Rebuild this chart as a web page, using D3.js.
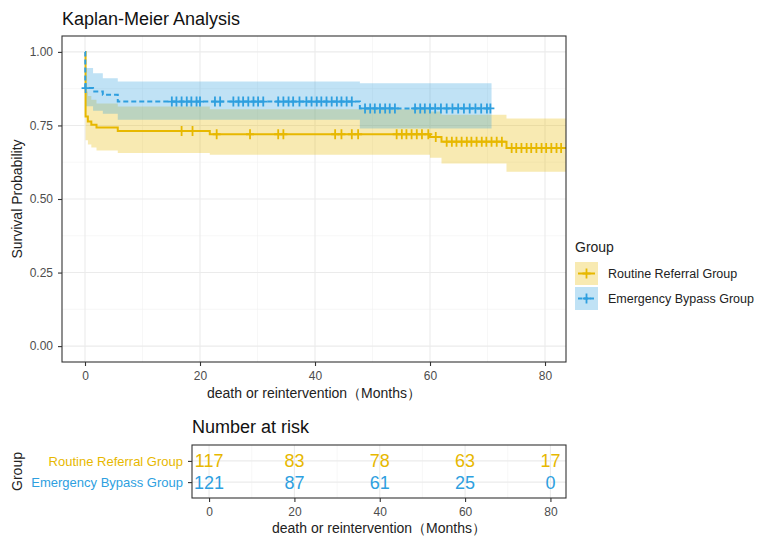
<!DOCTYPE html>
<html>
<head>
<meta charset="utf-8">
<script src="https://cdn.jsdelivr.net/npm/d3@7"></script>
<style>
  body { margin: 0; background: #fff; }
  svg { display: block; }
</style>
</head>
<body>
<div id="chart"></div>
<script>
// Kaplan-Meier curve with number-at-risk table

// Data
// Routine Referral Group (step times, survival and 95% band)
const routineTimes = [0, 0.1, 0.5, 1.1, 2.0, 5.7, 21.7, 60.0, 62.0, 73.3];
const routineSurv  = [1.0, 0.78, 0.763, 0.752, 0.743, 0.731, 0.72, 0.711, 0.695, 0.673];
const routineUpper = [1.0, 0.865, 0.85, 0.837, 0.825, 0.814, 0.805, 0.797, 0.786, 0.774];
const routineLower = [1.0, 0.70, 0.685, 0.675, 0.665, 0.656, 0.65, 0.64, 0.621, 0.593];
const routineEnd = 83.65;
const routineCensor = [16.8, 18.7, 22.9, 28.7, 33.6, 34.5, 43.5, 44.6, 46.4, 47.5,
    54.2, 55.1, 55.9, 56.8, 57.7, 58.6, 59.7, 61.0,
    62.9, 63.8, 64.6, 65.5, 66.4, 67.2, 68.1, 69.0, 69.8, 70.7, 71.6, 72.5,
    74.2, 75.0, 75.9, 76.8, 77.6, 78.5, 79.4, 80.2, 81.1, 82.0, 82.8];

// Emergency Bypass Group
const emergencyTimes = [0, 0.05, 1.4, 3.1, 5.7, 47.8];
const emergencySurv  = [1.0, 0.877, 0.865, 0.854, 0.831, 0.808];
const emergencyUpper = [1.0, 0.945, 0.927, 0.91, 0.899, 0.893];
const emergencyLower = [1.0, 0.815, 0.80, 0.79, 0.769, 0.74];
const emergencyEnd = 70.7;
const emergencyCensor = [0.1, 15.1, 15.9, 16.8, 17.7, 18.5, 19.4, 20.0, 22.6, 23.5,
    25.8, 26.7, 27.5, 28.4, 29.3, 30.1, 31.0, 33.6, 34.5, 35.4, 36.2, 37.3,
    38.5, 39.4, 40.3, 41.1, 42.0, 42.9, 43.8, 44.6, 45.5, 46.4,
    48.7, 49.6, 50.4, 51.3, 52.2, 53.0, 53.9,
    57.4, 58.3, 59.1, 60.0, 60.9, 61.9, 62.9, 63.9, 64.9, 65.9, 66.9, 67.9, 68.9, 69.9, 70.5];

// Number at risk
const groups = ["Routine Referral Group", "Emergency Bypass Group"];
const riskTimes = [0, 20, 40, 60, 80];
const riskRoutine = [117, 83, 78, 63, 17];
const riskEmergency = [121, 87, 61, 25, 0];

// Ticks
const xTicks = [0, 20, 40, 60, 80];
const xMinor = [10, 30, 50, 70];
const yTicks = [0, 0.25, 0.5, 0.75, 1];
const yMinor = [0.125, 0.375, 0.625, 0.875];

// Styles
const colorRoutine = "#E7B800";
const colorEmergency = "#2E9FDF";
const font = "'Liberation Sans', Arial, sans-serif";
const bandOpacity = 0.3;

const width = 767;
const height = 547;

// Panels
const main = { left: 62, top: 36, right: 566, bottom: 362 };
const risk = { left: 192, top: 445, right: 566, bottom: 498 };

const svg = d3.select("#chart")
    .append("svg")
    .attr("width", width)
    .attr("height", height)
    .style("font-family", font);

// Scales
let x = d3.scaleLinear().domain([-4, 83.65]).range([main.left, main.right]);
let y = d3.scaleLinear().domain([-0.054, 1.054]).range([main.bottom, main.top]);
let xr = d3.scaleLinear().domain([-4, 83.65]).range([risk.left, risk.right]);
let yr = d3.scalePoint().domain(groups).range([risk.top, risk.bottom]).padding(0.75);

// Build step data for one group
function stepData(times, surv, lower, upper, end) {
    let d = times.map((t, i) => ({ t: t, s: surv[i], lo: lower[i], hi: upper[i] }));
    let last = d[d.length - 1];
    d.push({ t: end, s: last.s, lo: last.lo, hi: last.hi });
    return d;
}

// survival value at time t (step function)
function survAt(times, surv, t) {
    let i = d3.bisectRight(times, t) - 1;
    return surv[Math.max(i, 0)];
}

const routineData = stepData(routineTimes, routineSurv, routineLower, routineUpper, routineEnd);
const emergencyData = stepData(emergencyTimes, emergencySurv, emergencyLower, emergencyUpper, emergencyEnd);

// Grid lines in main panel
const grid = svg.append("g").attr("class", "grid");

grid.selectAll(".xminor").data(xMinor).enter().append("line")
    .attr("x1", d => x(d)).attr("x2", d => x(d))
    .attr("y1", main.top).attr("y2", main.bottom)
    .style("stroke", "#F2F2F2").style("stroke-width", 0.6);
grid.selectAll(".yminor").data(yMinor).enter().append("line")
    .attr("x1", main.left).attr("x2", main.right)
    .attr("y1", d => y(d)).attr("y2", d => y(d))
    .style("stroke", "#F2F2F2").style("stroke-width", 0.6);
grid.selectAll(".xmajor").data(xTicks).enter().append("line")
    .attr("x1", d => x(d)).attr("x2", d => x(d))
    .attr("y1", main.top).attr("y2", main.bottom)
    .style("stroke", "#EBEBEB").style("stroke-width", 1.1);
grid.selectAll(".ymajor").data(yTicks).enter().append("line")
    .attr("x1", main.left).attr("x2", main.right)
    .attr("y1", d => y(d)).attr("y2", d => y(d))
    .style("stroke", "#EBEBEB").style("stroke-width", 1.1);

// Confidence bands
const band = d3.area()
    .curve(d3.curveStepAfter)
    .x(d => x(d.t))
    .y0(d => y(d.lo))
    .y1(d => y(d.hi));

svg.append("path").datum(routineData)
    .attr("d", band)
    .style("fill", colorRoutine).style("fill-opacity", bandOpacity);
svg.append("path").datum(emergencyData)
    .attr("d", band)
    .style("fill", colorEmergency).style("fill-opacity", bandOpacity);

// Survival curves
const curve = d3.line()
    .curve(d3.curveStepAfter)
    .x(d => x(d.t))
    .y(d => y(d.s));

svg.append("path").datum(routineData)
    .attr("d", curve)
    .style("fill", "none").style("stroke", colorRoutine).style("stroke-width", 2);
svg.append("path").datum(emergencyData)
    .attr("d", curve)
    .style("fill", "none").style("stroke", colorEmergency).style("stroke-width", 2)
    .style("stroke-dasharray", "5,3");

// Censor marks
function plus(cx, cy) {
    return `M${cx - 4},${cy}h8M${cx},${cy - 5}v10`;
}

svg.append("g").selectAll("path").data(routineCensor).enter().append("path")
    .attr("d", t => plus(x(t), y(survAt(routineTimes, routineSurv, t))))
    .style("stroke", colorRoutine).style("stroke-width", 1.8).style("fill", "none");
svg.append("g").selectAll("path").data(emergencyCensor).enter().append("path")
    .attr("d", t => plus(x(t), y(survAt(emergencyTimes, emergencySurv, t))))
    .style("stroke", colorEmergency).style("stroke-width", 1.8).style("fill", "none");

// Panel border
svg.append("rect")
    .attr("x", main.left).attr("y", main.top)
    .attr("width", main.right - main.left).attr("height", main.bottom - main.top)
    .style("fill", "none").style("stroke", "#333").style("stroke-width", 1.1);

// Axes
function styleAxis(g) {
    g.select(".domain").remove();
    g.selectAll(".tick line").style("stroke", "#333").style("stroke-width", 1.1);
    g.selectAll(".tick text")
        .style("fill", "#4D4D4D")
        .style("font-size", "12px")
        .style("font-family", font);
}

svg.append("g")
    .attr("transform", `translate(0,${main.bottom})`)
    .call(d3.axisBottom(x).tickValues(xTicks).tickSize(4).tickPadding(5))
    .call(styleAxis);

svg.append("g")
    .attr("transform", `translate(${main.left},0)`)
    .call(d3.axisLeft(y).tickValues(yTicks).tickFormat(d3.format(".2f")).tickSize(4).tickPadding(5))
    .call(styleAxis);

// Titles
svg.append("text")
    .attr("x", 62).attr("y", 25)
    .style("font-size", "18px").style("fill", "#111")
    .text("Kaplan-Meier Analysis");

svg.append("text")
    .attr("x", (main.left + main.right) / 2).attr("y", 398)
    .attr("text-anchor", "middle")
    .style("font-size", "14px").style("fill", "#222")
    .text("death or reintervention（Months）");

svg.append("text")
    .attr("transform", `translate(22,${(main.top + main.bottom) / 2}) rotate(-90)`)
    .attr("text-anchor", "middle")
    .style("font-size", "14px").style("fill", "#222")
    .text("Survival Probability");

// Legend
const legend = svg.append("g").attr("transform", "translate(575,0)");

legend.append("text")
    .attr("x", 0).attr("y", 252)
    .style("font-size", "14px").style("fill", "#222")
    .text("Group");

const legendItems = [
    { name: groups[0], color: colorRoutine, dash: null, y: 262 },
    { name: groups[1], color: colorEmergency, dash: "4,2", y: 287 }
];

legendItems.forEach(item => {
    legend.append("rect")
        .attr("x", 0).attr("y", item.y)
        .attr("width", 23).attr("height", 23)
        .style("fill", item.color).style("fill-opacity", bandOpacity);
    legend.append("line")
        .attr("x1", 3).attr("x2", 20)
        .attr("y1", item.y + 11.5).attr("y2", item.y + 11.5)
        .style("stroke", item.color).style("stroke-width", 2)
        .style("stroke-dasharray", item.dash);
    legend.append("path")
        .attr("d", plus(11.5, item.y + 11.5))
        .style("stroke", item.color).style("stroke-width", 1.8);
    legend.append("text")
        .attr("x", 33).attr("y", item.y + 16)
        .style("font-size", "12.5px").style("fill", "#222")
        .text(item.name);
});

// Risk table
svg.append("text")
    .attr("x", risk.left).attr("y", 433)
    .style("font-size", "18px").style("fill", "#111")
    .text("Number at risk");

const rgrid = svg.append("g");
rgrid.selectAll(".rminor").data(xMinor).enter().append("line")
    .attr("x1", d => xr(d)).attr("x2", d => xr(d))
    .attr("y1", risk.top).attr("y2", risk.bottom)
    .style("stroke", "#F2F2F2").style("stroke-width", 0.6);
rgrid.selectAll(".rmajor").data(xTicks).enter().append("line")
    .attr("x1", d => xr(d)).attr("x2", d => xr(d))
    .attr("y1", risk.top).attr("y2", risk.bottom)
    .style("stroke", "#EBEBEB").style("stroke-width", 1.1);
rgrid.selectAll(".rrow").data(groups).enter().append("line")
    .attr("x1", risk.left).attr("x2", risk.right)
    .attr("y1", d => yr(d)).attr("y2", d => yr(d))
    .style("stroke", "#EBEBEB").style("stroke-width", 1.1);

const riskRows = [
    { name: groups[0], values: riskRoutine, color: colorRoutine },
    { name: groups[1], values: riskEmergency, color: colorEmergency }
];

riskRows.forEach(row => {
    svg.append("g").selectAll("text")
        .data(row.values).enter().append("text")
        .attr("x", (d, i) => xr(riskTimes[i]))
        .attr("y", yr(row.name))
        .attr("dy", "0.36em")
        .attr("text-anchor", "middle")
        .style("font-size", "18px")
        .style("fill", row.color)
        .text(d => d);
});

svg.append("rect")
    .attr("x", risk.left).attr("y", risk.top)
    .attr("width", risk.right - risk.left).attr("height", risk.bottom - risk.top)
    .style("fill", "none").style("stroke", "#333").style("stroke-width", 1.1);

svg.append("g")
    .attr("transform", `translate(0,${risk.bottom})`)
    .call(d3.axisBottom(xr).tickValues(xTicks).tickSize(4).tickPadding(5))
    .call(styleAxis);

const ryAxis = svg.append("g")
    .attr("transform", `translate(${risk.left},0)`)
    .call(d3.axisLeft(yr).tickSize(4).tickPadding(5))
    .call(styleAxis);

ryAxis.selectAll(".tick text")
    .style("font-size", "13px")
    .style("fill", (d, i) => riskRows[i].color);

svg.append("text")
    .attr("x", (risk.left + risk.right) / 2).attr("y", 533)
    .attr("text-anchor", "middle")
    .style("font-size", "14px").style("fill", "#222")
    .text("death or reintervention（Months）");

svg.append("text")
    .attr("transform", `translate(22,${(risk.top + risk.bottom) / 2}) rotate(-90)`)
    .attr("text-anchor", "middle")
    .style("font-size", "14px").style("fill", "#222")
    .text("Group");
</script>
</body>
</html>
